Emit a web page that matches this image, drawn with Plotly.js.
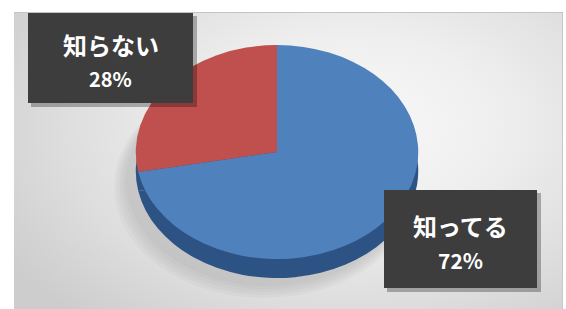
<!DOCTYPE html>
<html>
<head>
<meta charset="utf-8">
<script src="https://cdn.plot.ly/plotly-3.0.1.min.js"></script>
<style>
  html, body { margin: 0; padding: 0; background: #ffffff; }
  #wrap { position: relative; width: 566px; height: 309px; overflow: hidden; }
  #panel {
    position: absolute; left: 14px; top: 12px; width: 548px; height: 297px;
    border-top: 1px solid #c4c4c4; border-right: 1px solid #c8c8c8;
    background: radial-gradient(ellipse 75% 85% at 62% 38%, #f8f8f8 0%, #efefef 35%, #dedede 70%, #cdcdcd 100%);
  }
  #chart { position: absolute; left: 0; top: 0; width: 566px; height: 309px; }
</style>
</head>
<body>
<div id="wrap">
  <div id="panel"></div>
  <div id="chart"></div>
</div>
<script>
// ---- data ----
const labels = ["知ってる", "知らない"];
const values = [72, 28];
const topColors = ["#4F81BD", "#C0504D"];
const sideColors = ["#2d5384", "#2d5384"];

const total = values.reduce((a, b) => a + b, 0);
const pctText = values.map(v => Math.round(v / total * 100) + "%");

const W = 566, H = 309;
const px = x => x / W;
const py = y => 1 - y / H;

// top face circle: center (277,152), radius 107 (made elliptical afterwards)
const cx = 277, cy = 152, r = 107, depth = 19;

const sidePie = {
  type: "pie", labels: labels, values: values, sort: false,
  direction: "clockwise", rotation: 0,
  marker: { colors: sideColors, line: { width: 0 } },
  textinfo: "none", hoverinfo: "skip", showlegend: false,
  domain: { x: [px(cx - r), px(cx + r)], y: [py(cy + depth + r), py(cy + depth - r)] }
};
const topPie = {
  type: "pie", labels: labels, values: values, sort: false,
  direction: "clockwise", rotation: 0,
  marker: { colors: topColors, line: { width: 0 } },
  textinfo: "none", hoverinfo: "skip", showlegend: false,
  domain: { x: [px(cx - r), px(cx + r)], y: [py(cy + r), py(cy - r)] }
};

// label boxes (pixel rects)
const boxes = [
  { x0: 384, x1: 537, y0: 190, y1: 288, l1: 225, l2: 260, s1: 24, s2: 21 },
  { x0: 28, x1: 193, y0: 13, y1: 103, l1: 45, l2: 78, s1: 24, s2: 20 }
];

const shapes = [];
// soft shadow under pie (several faint layers)
[12, 9, 6, 3, 0].forEach(g => {
  shapes.push({
    type: "circle", xref: "paper", yref: "paper", layer: "below",
    x0: px(cx - 1.32 * r - 10 - g), x1: px(cx + 1.32 * r - 8 + g * 0.5),
    y0: py(cy + depth + r + 8 + g), y1: py(cy - r + 30),
    fillcolor: "rgba(0,0,0,0.022)", line: { width: 0 }
  });
});
const annotations = [];
boxes.forEach((b, i) => {
  shapes.push({
    type: "rect", xref: "paper", yref: "paper", layer: "above",
    x0: px(b.x0 + 3), x1: px(b.x1 + 4), y0: py(b.y1 + 4), y1: py(b.y0 + 3),
    fillcolor: "rgba(0,0,0,0.28)", line: { width: 0 }
  });
  shapes.push({
    type: "rect", xref: "paper", yref: "paper", layer: "above",
    x0: px(b.x0), x1: px(b.x1), y0: py(b.y1), y1: py(b.y0),
    fillcolor: "#3d3d3d", line: { width: 0 }
  });
  const mid = (b.x0 + b.x1) / 2;
  annotations.push({
    xref: "paper", yref: "paper", x: px(mid), y: py(b.l1),
    xanchor: "center", yanchor: "middle", showarrow: false,
    text: "<b>" + labels[i] + "</b>",
    font: { family: "Noto Sans CJK JP, sans-serif", size: b.s1, color: "#ffffff" }
  });
  annotations.push({
    xref: "paper", yref: "paper", x: px(mid), y: py(b.l2),
    xanchor: "center", yanchor: "middle", showarrow: false,
    text: "<b>" + pctText[i] + "</b>",
    font: { family: "Noto Sans CJK JP, sans-serif", size: b.s2, color: "#ffffff" }
  });
});

const layout = {
  width: W, height: H,
  margin: { l: 0, r: 0, t: 0, b: 0 },
  paper_bgcolor: "rgba(0,0,0,0)",
  plot_bgcolor: "rgba(0,0,0,0)",
  showlegend: false,
  shapes: shapes,
  annotations: annotations
};

Plotly.newPlot("chart", [sidePie, topPie], layout, { staticPlot: true, displayModeBar: false }).then(gd => {
  // flatten the circular pie into the tilted ellipse of the reference
  const sx = 1.32;
  const pl = gd.querySelector(".pielayer");
  if (pl) pl.setAttribute("transform", "translate(" + cx + ",0) scale(" + sx + ",1) translate(" + (-cx) + ",0)");
});
</script>
</body>
</html>
